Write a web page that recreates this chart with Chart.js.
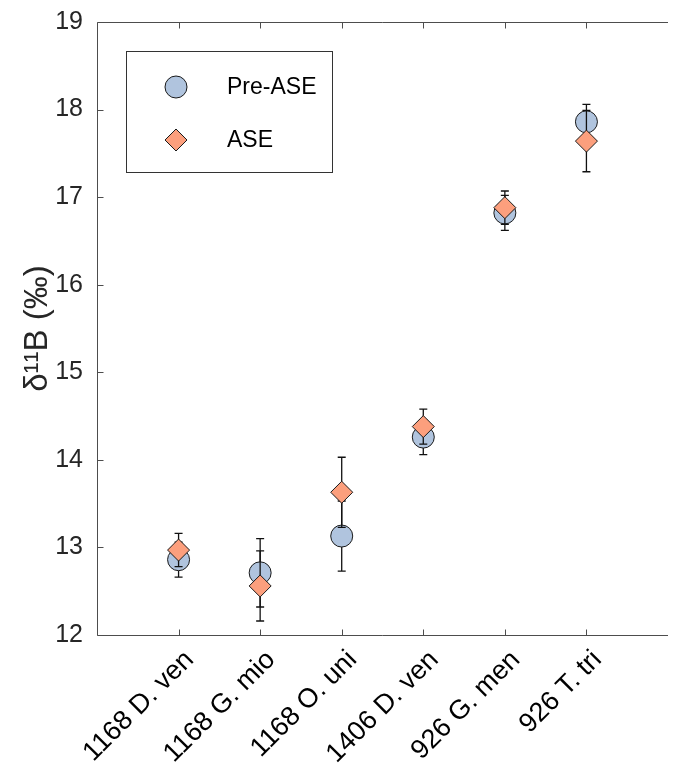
<!DOCTYPE html>
<html>
<head>
<meta charset="utf-8">
<script src="https://cdn.jsdelivr.net/npm/chart.js@4/dist/chart.umd.min.js"></script>
<style>
html,body{margin:0;padding:0;background:#fff;}
#wrap{width:680px;height:770px;}
</style>
</head>
<body>
<div id="wrap"><canvas id="c" width="680" height="770"></canvas></div>
<script>
const categories = ['1168 D. ven', '1168 G. mio', '1168 O. uni', '1406 D. ven', '926 G. men', '926 T. tri'];
const preASE = [12.86, 12.71, 13.13, 14.26, 16.82, 17.86];
const preErr = [0.20, 0.39, 0.40, 0.20, 0.20, 0.20];
const ase = [12.97, 12.56, 13.63, 14.38, 16.88, 17.64];
const aseErr = [0.19, 0.40, 0.40, 0.20, 0.19, 0.35];
const yTicks = [12, 13, 14, 15, 16, 17, 18, 19];
const seriesNames = ['Pre-ASE', 'ASE'];

const FONT = '"Liberation Sans", Arial, Helvetica, sans-serif';
const AXIS_COLOR = '#4d4d4d';
const PRE_FILL = '#b0c4de';
const ASE_FILL = '#fc9f7d';

const errors = [preErr, aseErr];

const errorBarPlugin = {
  id: 'errorBars',
  beforeDatasetDraw(chart, args) {
    const idx = args.index;
    const err = errors[idx];
    const ds = chart.data.datasets[idx];
    const xs = chart.scales.x, ys = chart.scales.y;
    const ctx = chart.ctx;
    ctx.save();
    ctx.strokeStyle = '#111';
    ctx.lineWidth = 1.3;
    ds.data.forEach((p, i) => {
      const x = xs.getPixelForValue(p.x);
      const yTop = ys.getPixelForValue(p.y + err[i]);
      const yBot = ys.getPixelForValue(p.y - err[i]);
      ctx.beginPath();
      ctx.moveTo(x, yTop); ctx.lineTo(x, yBot);
      ctx.moveTo(x - 4, yTop); ctx.lineTo(x + 4, yTop);
      ctx.moveTo(x - 4, yBot); ctx.lineTo(x + 4, yBot);
      ctx.stroke();
    });
    ctx.restore();
  }
};

const framePlugin = {
  id: 'frame',
  beforeDatasetsDraw(chart) {
    const {ctx, chartArea: a} = chart;
    const xs = chart.scales.x, ys = chart.scales.y;
    ctx.save();
    ctx.strokeStyle = AXIS_COLOR;
    ctx.lineWidth = 1;
    ctx.beginPath();
    const L = Math.round(a.left) + 0.5, R = Math.round(a.right);
    const T = Math.round(a.top) + 0.5, B = Math.round(a.bottom) + 0.5;
    ctx.moveTo(R, T); ctx.lineTo(L, T); ctx.lineTo(L, B); ctx.lineTo(R, B);
    const tl = 6;
    for (let i = 1; i <= categories.length; i++) {
      const x = Math.round(xs.getPixelForValue(i)) + 0.5;
      ctx.moveTo(x, B); ctx.lineTo(x, B - tl);
      ctx.moveTo(x, T); ctx.lineTo(x, T + tl);
    }
    yTicks.forEach(v => {
      const y = Math.round(ys.getPixelForValue(v)) + 0.5;
      ctx.moveTo(L, y); ctx.lineTo(L + tl, y);
    });
    ctx.stroke();

    // rotated category labels
    ctx.fillStyle = '#000';
    ctx.font = '27px ' + FONT;
    ctx.textAlign = 'right';
    ctx.textBaseline = 'middle';
    for (let i = 1; i <= categories.length; i++) {
      const x = xs.getPixelForValue(i);
      ctx.save();
      ctx.translate(x + 11, B + 20);
      ctx.rotate(-Math.PI / 4);
      ctx.fillText(categories[i - 1], 0, 0);
      ctx.restore();
    }
    ctx.restore();
  },
  afterDraw(chart) {
    const ctx = chart.ctx;
    ctx.save();
    ctx.strokeStyle = '#333';
    ctx.lineWidth = 1;
    ctx.fillStyle = '#fff';
    ctx.fillRect(126, 51, 206, 121);
    ctx.strokeRect(126.5, 51.5, 206, 121);
    const rowsY = [87, 140];
    ctx.font = '23px ' + FONT;
    ctx.textBaseline = 'middle';
    ctx.textAlign = 'left';
    seriesNames.forEach((name, i) => {
      const ds = chart.data.datasets[i];
      ctx.fillStyle = ds.backgroundColor;
      ctx.strokeStyle = ds.borderColor;
      ctx.lineWidth = ds.borderWidth;
      Chart.helpers.drawPoint(ctx, {pointStyle: ds.pointStyle, radius: ds.pointRadius, rotation: 0, borderWidth: ds.borderWidth}, 176, rowsY[i]);
      ctx.fillStyle = '#000';
      ctx.fillText(name, 227, rowsY[i] + 1);
    });
    ctx.restore();
  }
};

new Chart(document.getElementById('c'), {
  type: 'scatter',
  data: {
    datasets: [
      {
        label: seriesNames[0],
        data: preASE.map((v, i) => ({x: i + 1, y: v})),
        pointStyle: 'circle',
        pointRadius: 11,
        pointHoverRadius: 11,
        backgroundColor: PRE_FILL,
        borderColor: '#1a1a1a',
        borderWidth: 1,
        order: 2
      },
      {
        label: seriesNames[1],
        data: ase.map((v, i) => ({x: i + 1, y: v})),
        pointStyle: 'rectRot',
        pointRadius: 11,
        pointHoverRadius: 11,
        backgroundColor: ASE_FILL,
        borderColor: '#1a1a1a',
        borderWidth: 1,
        order: 1
      }
    ]
  },
  options: {
    responsive: false,
    animation: false,
    devicePixelRatio: 1,
    layout: {padding: {top: 22, right: 0, left: 0, bottom: 0}},
    plugins: {legend: {display: false}, tooltip: {enabled: false}},
    scales: {
      x: {
        type: 'linear',
        min: 0, max: 7,
        grid: {display: false, drawTicks: false},
        border: {display: false},
        afterBuildTicks(scale) { scale.ticks = categories.map((c, i) => ({value: i + 1})); },
        afterFit(scale) { scale.height = 135; scale.paddingLeft = 0; scale.paddingRight = 0; },
        ticks: { display: false, autoSkip: false }
      },
      y: {
        type: 'linear',
        min: 12, max: 19,
        grid: {display: false, drawTicks: false},
        border: {display: false},
        afterBuildTicks(scale) { scale.ticks = yTicks.map(v => ({value: v})); },
        afterFit(scale) { scale.width = 97; scale.paddingTop = 0; scale.paddingBottom = 0; },
        ticks: {
          padding: 14,
          color: '#262626',
          font: {family: FONT, size: 25}
        },
        title: {
          display: true,
          text: 'δ¹¹B (‰)',
          color: '#262626',
          font: {family: FONT, size: 33},
          padding: {top: 18, bottom: 0}
        }
      }
    }
  },
  plugins: [errorBarPlugin, framePlugin]
});
</script>
</body>
</html>
